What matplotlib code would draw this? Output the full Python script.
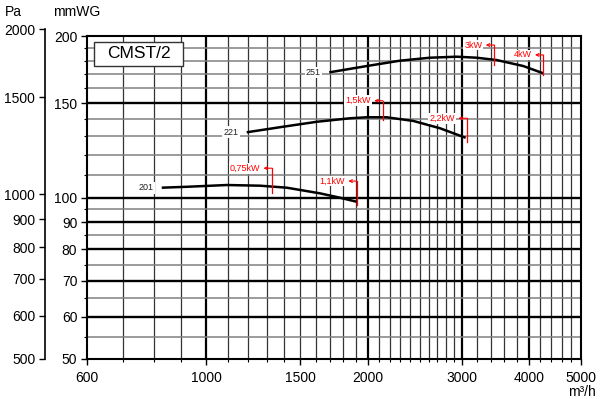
import numpy as np
import matplotlib
matplotlib.use('Agg')
import matplotlib.pyplot as plt
from matplotlib.ticker import FixedLocator, FixedFormatter, NullFormatter
from matplotlib.patches import Rectangle

plt.rcParams['font.family'] = ['Liberation Sans', 'DejaVu Sans']

# fan curves (m3/h, mmWG)
q201 = [827, 920, 1093, 1261, 1414, 1631, 1777, 1909]
p201 = [104.3, 104.7, 105.5, 105.2, 104.3, 101.8, 99.9, 98.2]
q221 = [1191, 1393, 1608, 1855, 1993, 2171, 2435, 2730, 3048]
p221 = [132.3, 135.5, 138.4, 140.5, 141.1, 141.1, 138.9, 134.6, 129.2]
q251 = [1697, 1993, 2299, 2615, 2933, 3196, 3481, 3904, 4253]
p251 = [171.1, 175.8, 179.9, 182.2, 183.0, 182.2, 180.4, 175.8, 170.4]
curves = [('201', q201, p201), ('221', q221, p221), ('251', q251, p251)]

# motor power markers: label, x, top, bottom
kw_labels = ['0,75kW', '1,1kW', '1,5kW', '2,2kW', '3kW', '4kW']
kw_x = [1326, 1909, 2134, 3061, 3442, 4253]
kw_top = [113.4, 107.3, 151.5, 140.5, 192.4, 184.4]
kw_bot = [101.8, 96.8, 139.5, 126.7, 176.6, 169.1]

x_major = [600, 1000, 1500, 2000, 3000, 4000, 5000]
x_thick = [1000, 2000, 3000, 4000]
x_thin = [700, 800, 900, 1100, 1200, 1300, 1400, 1500, 1600, 1700, 1800, 1900,
          2100, 2200, 2300, 2400, 2500, 2600, 2700, 2800, 2900,
          3200, 3400, 3600, 3800, 4200, 4400, 4600, 4800]
y_major = [50, 60, 70, 80, 90, 100, 150, 200]
y_thin = [55, 65, 75, 85, 95, 110, 120, 130, 140, 160, 170, 180, 190]
pa_ticks = [500, 600, 700, 800, 900, 1000, 1500, 2000]

W, H = 600, 399
fig = plt.figure(figsize=(6, 3.99), dpi=100)
ax = fig.add_axes([87 / W, 1 - 359 / H, (581 - 87) / W, (359 - 36) / H])
ax.set_xscale('log')
ax.set_yscale('log')
ax.set_xlim(600, 5000)
ax.set_ylim(50, 200)

for x in x_thin:
    ax.axvline(x, color='#333333', lw=0.9, zorder=1)
for x in x_thick:
    ax.axvline(x, color='black', lw=1.6, zorder=1)
for y in y_thin:
    ax.axhline(y, color='#808080', lw=1.1, zorder=1)
for y in y_major[1:-1]:
    ax.axhline(y, color='black', lw=1.7, zorder=1)

ax.xaxis.set_major_locator(FixedLocator(x_major))
ax.xaxis.set_major_formatter(FixedFormatter([str(v) for v in x_major]))
ax.xaxis.set_minor_locator(FixedLocator(x_thin + x_thick))
ax.xaxis.set_minor_formatter(NullFormatter())
ax.yaxis.set_major_locator(FixedLocator(y_major))
ax.yaxis.set_major_formatter(FixedFormatter([str(v) for v in y_major]))
ax.yaxis.set_minor_locator(FixedLocator(y_thin))
ax.yaxis.set_minor_formatter(NullFormatter())
ax.tick_params(which='major', direction='out', length=4, width=1, labelsize=10, pad=3)
ax.tick_params(axis='x', which='major', pad=5)
ax.tick_params(which='minor', direction='out', length=2.5, width=0.8)
for s in ax.spines.values():
    s.set_linewidth(1.5)

for name, q, p in curves:
    ax.plot(q, p, color='black', lw=1.8, zorder=4, solid_capstyle='butt')
    ax.annotate(name, xy=(q[0], p[0]), xytext=(-6, 0), textcoords='offset points',
                ha='right', va='center', fontsize=6.5, color='#222222', zorder=5,
                bbox=dict(boxstyle='square,pad=0.15', fc='white', ec='none'))

for lab, x, t, b in zip(kw_labels, kw_x, kw_top, kw_bot):
    ax.plot([x, x], [b, t], color='red', lw=0.9, zorder=5)
    ax.annotate('', xy=(x, t), xytext=(-6, 0), textcoords='offset points',
                arrowprops=dict(arrowstyle='<-', color='red', lw=0.8,
                                shrinkA=0, shrinkB=0, mutation_scale=5), zorder=5)
    ax.annotate(lab, xy=(x, t), xytext=(-8.5, 0), textcoords='offset points',
                ha='right', va='center', fontsize=6.5, color='red', zorder=5,
                bbox=dict(boxstyle='square,pad=0.1', fc='white', ec='none'))

ax.add_patch(Rectangle((0.0148, 0.908), 0.180, 0.0743, transform=ax.transAxes,
                       fc='white', ec='#333333', lw=1.0, zorder=6))
ax.text(0.1049, 0.945, 'CMST/2', transform=ax.transAxes, ha='center', va='center',
        fontsize=12.5, zorder=7)

# Pa scale
pa = fig.add_axes([45 / W, 1 - 359 / H, 0.001, (359 - 29) / H])
pa.set_yscale('log')
pa.set_ylim(500, 2000)
pa.patch.set_visible(False)
for k in ['top', 'right', 'bottom']:
    pa.spines[k].set_visible(False)
pa.spines['left'].set_linewidth(1.2)
pa.set_xticks([])
pa.yaxis.set_major_locator(FixedLocator(pa_ticks))
pa.yaxis.set_major_formatter(FixedFormatter([str(v) for v in pa_ticks]))
pa.yaxis.set_minor_locator(FixedLocator([]))
pa.tick_params(axis='y', direction='out', length=4, width=1, labelsize=10, pad=3)

fig.text(5 / W, 1 - 12 / H, 'Pa', ha='left', va='center', fontsize=10)
fig.text(53 / W, 1 - 12 / H, 'mmWG', ha='left', va='center', fontsize=10)
fig.text(596 / W, 1 - 392 / H, 'm³/h', ha='right', va='center', fontsize=10)

fig.savefig('out.png', dpi=100)
